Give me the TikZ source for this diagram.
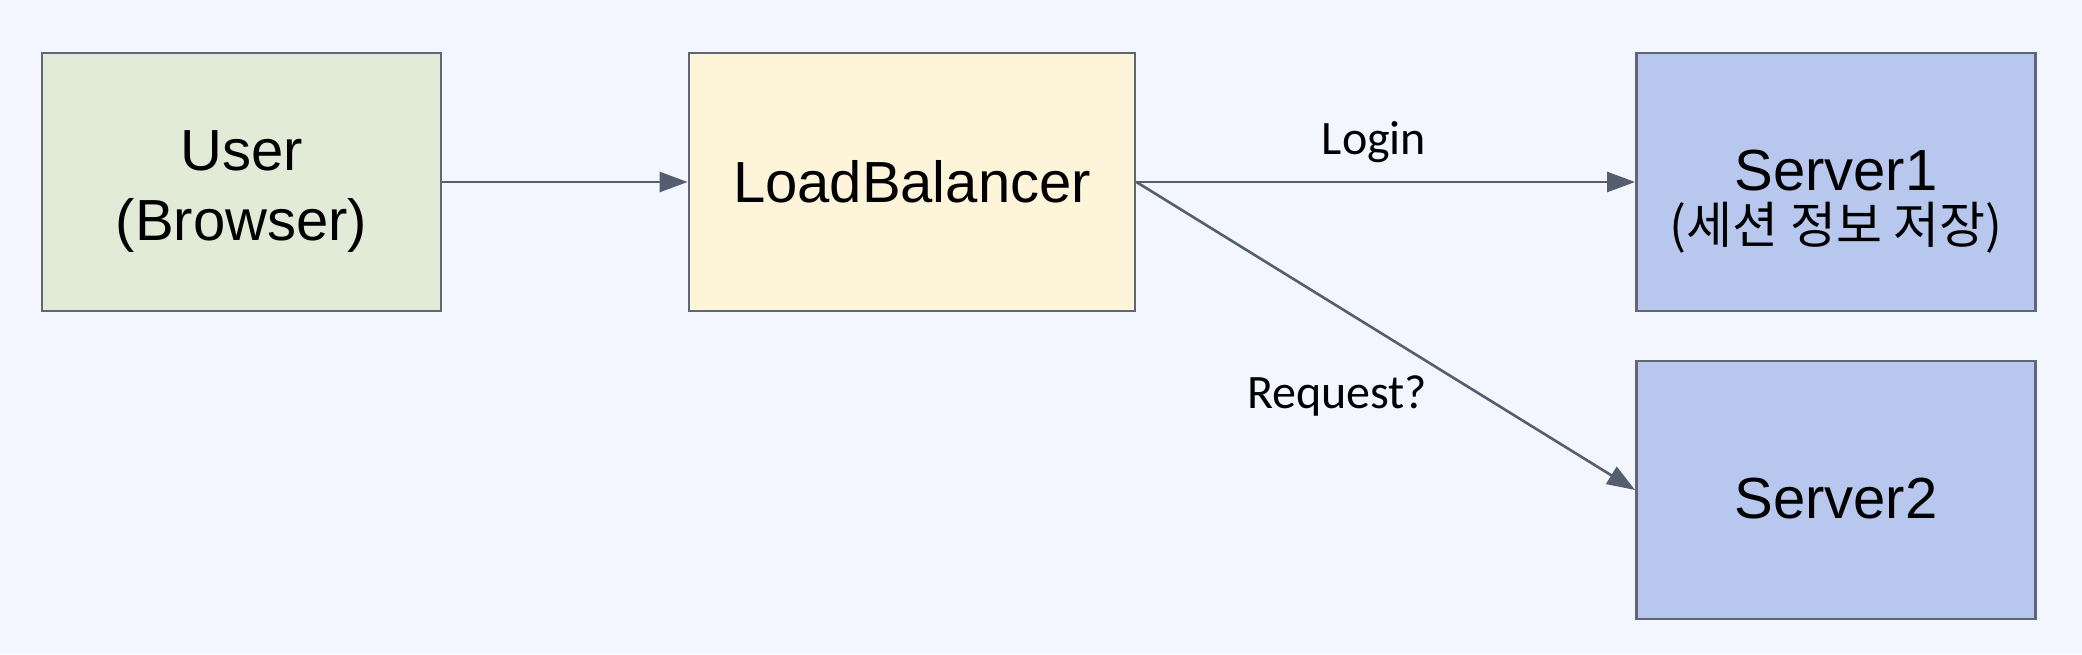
\documentclass[tikz,border=0pt]{standalone}
\usepackage{fontspec}
\setmainfont{Liberation Sans}
\newfontfamily\labelfont{Carlito}
\newfontfamily\krfont{Noto Sans CJK KR}
\usetikzlibrary{arrows.meta}
\definecolor{bgc}{HTML}{F3F6FE}
\definecolor{userc}{HTML}{E2EAD8}
\definecolor{lbc}{HTML}{FDF4D9}
\definecolor{srvc}{HTML}{B7C7EE}
\definecolor{edgec}{HTML}{5F6775}
\definecolor{arrc}{HTML}{545E6E}
\tikzset{
  box/.style={draw=edgec, line width=1.4pt, inner sep=0pt, minimum width=199.5pt, minimum height=129pt, align=center, font=\fontsize{29}{35}\selectfont},
  conn/.style={draw=arrc, line width=1.3pt, -{Triangle[length=14pt,width=10pt]}},
  lbl/.style={font=\labelfont\fontsize{24}{28}\selectfont, inner sep=0pt}
}
\begin{document}
\begin{tikzpicture}[x=0.5pt,y=-0.5pt]
\fill[bgc] (0,0) rectangle (2082,654);
\useasboundingbox (0,0) rectangle (2082,654);
\node[box, fill=userc] (user) at (241.5,182) {\rule{0pt}{29pt}User\\(Browser)};
\node[box, fill=lbc, minimum width=223pt] (lb) at (912,182) {LoadBalancer};
\node[box, fill=srvc] (s1) at (1836,182) {\rule{0pt}{40pt}Server1\\[-8.5pt]{\krfont\fontsize{25}{30}\selectfont (세션 정보 저장)}};
\node[box, fill=srvc, text height=29pt] (s2) at (1836,490) {Server2};
\draw[conn] (user.east) -- (lb.west);
\draw[conn] (lb.east) -- (s1.west);
\draw[conn] (lb.east) -- (s2.west);
\node[lbl] (login) at (1374,142) {Login};
\node[lbl] (req) at (1337,396) {Request?};
\end{tikzpicture}
\end{document}
